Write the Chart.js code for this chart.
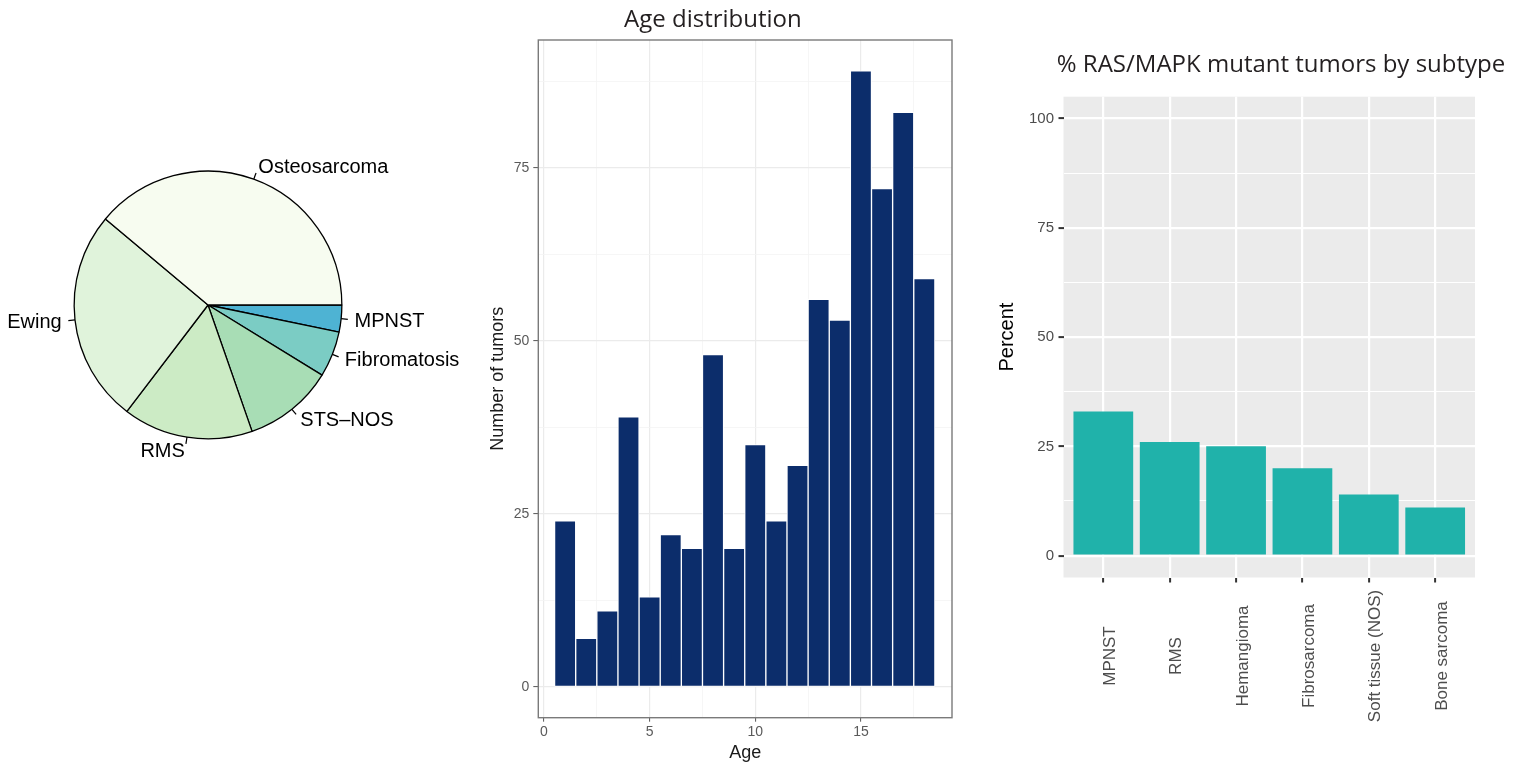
<!DOCTYPE html>
<html>
<head>
<meta charset="utf-8">
<title>Pediatric tumor cohort</title>
<script src="https://cdn.jsdelivr.net/npm/chart.js@4.4.1/dist/chart.umd.min.js"></script>
<style>
    html, body { margin: 0; padding: 0; background: #fff; }
    body { width: 1526px; height: 769px; position: relative; overflow: hidden; }
    canvas { position: absolute; top: 0; }
    #pieChart { left: 0; }
    #ageChart { left: 480px; }
    #subtypeChart { left: 990px; }
</style>
</head>
<body>
<canvas id="pieChart" width="480" height="640"></canvas>
<canvas id="ageChart" width="490" height="769"></canvas>
<canvas id="subtypeChart" width="536" height="769"></canvas>
<script>
// cohort composition (number of tumors per histology)
const tumorTypes = ["Osteosarcoma", "Ewing", "RMS", "STS\u2013NOS", "Fibromatosis", "MPNST"];
const tumorCounts = [275, 182, 111, 77, 39, 23];
const tumorColors = ["#F7FCF0", "#E0F3DB", "#CCEBC5", "#A8DDB5", "#7BCCC4", "#4EB3D3"];

// age at diagnosis
const ages = [1, 2, 3, 4, 5, 6, 7, 8, 9, 10, 11, 12, 13, 14, 15, 16, 17, 18];
const tumorsPerAge = [24, 7, 11, 39, 13, 22, 20, 48, 20, 35, 24, 32, 56, 53, 89, 72, 83, 59];
const ageTicks = [0, 5, 10, 15];
const countTicks = [0, 25, 50, 75];

// share of RAS/MAPK mutant tumors
const subtypes = ["MPNST", "RMS", "Hemangioma", "Fibrosarcoma", "Soft tissue (NOS)", "Bone sarcoma"];
const mutantPercent = [33, 26, 25, 20, 14, 11];
const percentTicks = [0, 25, 50, 75, 100];

Chart.defaults.font.family = '"Liberation Sans", Arial, sans-serif';

// major ticks plus the minor ones halfway between them
function withMinor(major, max) {
    const step = major[1] - major[0];
    return major.flatMap((v) => [v, v + step / 2]).filter((v) => v <= max).map((v) => ({ value: v }));
}

// panel heading drawn at a fixed spot above each plot
const caption = {
    id: "caption",
    afterDraw(chart, args, opts) {
        if (!opts.text) return;
        const ctx = chart.ctx;
        ctx.save();
        ctx.font = '24px "Open Sans"';
        ctx.fillStyle = "#231F20";
        ctx.textAlign = "center";
        ctx.textBaseline = "alphabetic";
        ctx.fillText(opts.text, opts.x, opts.y);
        ctx.restore();
    }
};

// pie labels with small leader ticks, like base R pie()
const pieLabels = {
    id: "pieLabels",
    afterDatasetsDraw(chart) {
        const ctx = chart.ctx;
        const arcs = chart.getDatasetMeta(0).data;

        ctx.save();
        ctx.font = '20px "Liberation Sans"';
        ctx.fillStyle = "#000";
        ctx.strokeStyle = "#000";
        ctx.lineWidth = 1.2;
        ctx.textBaseline = "middle";

        arcs.forEach((arc, i) => {
            const { x, y, startAngle, endAngle, outerRadius } = arc.getProps(["x", "y", "startAngle", "endAngle", "outerRadius"]);
            const mid = (startAngle + endAngle) / 2;
            const cos = Math.cos(mid);
            const sin = Math.sin(mid);

            ctx.beginPath();
            ctx.moveTo(x + cos * outerRadius, y + sin * outerRadius);
            ctx.lineTo(x + cos * outerRadius * 1.05, y + sin * outerRadius * 1.05);
            ctx.stroke();

            ctx.textAlign = cos < 0 ? "right" : "left";
            ctx.fillText(chart.data.labels[i], x + cos * outerRadius * 1.1, y + sin * outerRadius * 1.1 + 1);
        });

        ctx.restore();
    }
};

// grey ggplot-style panel behind the grid
const panelBackground = {
    id: "panelBackground",
    beforeDraw(chart, args, opts) {
        if (!opts.color) return;
        const { left, top, width, height } = chart.chartArea;
        chart.ctx.save();
        chart.ctx.fillStyle = opts.color;
        chart.ctx.fillRect(left, top, width, height);
        chart.ctx.restore();
    }
};

// theme_bw frame around the histogram
const panelBorder = {
    id: "panelBorder",
    afterDraw(chart, args, opts) {
        if (!opts.color) return;
        const { left, top, width, height } = chart.chartArea;
        chart.ctx.save();
        chart.ctx.strokeStyle = opts.color;
        chart.ctx.lineWidth = 1.4;
        chart.ctx.strokeRect(left, top, width, height);
        chart.ctx.restore();
    }
};

// vertical category names, centred below the axis
const subtypeLabels = {
    id: "subtypeLabels",
    afterDraw(chart) {
        const ctx = chart.ctx;
        const scale = chart.scales.x;

        ctx.save();
        ctx.font = '17px "Liberation Sans"';
        ctx.fillStyle = "#4D4D4D";
        ctx.textAlign = "center";
        ctx.textBaseline = "middle";

        subtypes.forEach((name, i) => {
            ctx.save();
            ctx.translate(scale.getPixelForValue(i) + 6.8, scale.top + 78.5);
            ctx.rotate(-Math.PI / 2);
            ctx.fillText(name, 0, 0);
            ctx.restore();
        });

        ctx.restore();
    }
};

function initPieChart() {
    // base R draws counter-clockwise from 3 o'clock, so feed the slices reversed
    const order = [...tumorTypes.keys()].reverse();

    new Chart(document.getElementById("pieChart"), {
        type: "pie",
        data: {
            labels: order.map((i) => tumorTypes[i]),
            datasets: [
                {
                    data: order.map((i) => tumorCounts[i]),
                    backgroundColor: order.map((i) => tumorColors[i]),
                    borderColor: "#000",
                    borderWidth: 1.3,
                    hoverOffset: 0
                }
            ]
        },
        options: {
            responsive: false,
            animation: false,
            devicePixelRatio: 1,
            events: [],
            rotation: 90,
            layout: {
                padding: { left: 73.5, top: 170.5, right: 137.5, bottom: 200.5 }
            },
            plugins: {
                legend: { display: false },
                tooltip: { enabled: false }
            }
        },
        plugins: [pieLabels]
    });
}

function initAgeChart() {
    const isMajorAge = (c) => c.tick && ageTicks.includes(c.tick.value);
    const isMajorCount = (c) => c.tick && countTicks.includes(c.tick.value);

    new Chart(document.getElementById("ageChart"), {
        type: "bar",
        data: {
            datasets: [
                {
                    data: ages.map((age, i) => ({ x: age, y: tumorsPerAge[i] })),
                    backgroundColor: "#0C2D6B",
                    borderColor: "#FFFFFF",
                    borderWidth: 1,
                    borderSkipped: false,
                    barPercentage: 1,
                    categoryPercentage: 1
                }
            ]
        },
        options: {
            responsive: false,
            animation: false,
            devicePixelRatio: 1,
            events: [],
            layout: {
                padding: { left: 0, top: 40, right: 18, bottom: 0 }
            },
            plugins: {
                legend: { display: false },
                tooltip: { enabled: false },
                caption: { text: "Age distribution", x: 232.9, y: 27.3 },
                panelBorder: { color: "#7A7A7A" }
            },
            scales: {
                x: {
                    type: "linear",
                    min: -0.27,
                    max: 19.31,
                    bounds: "data",
                    offset: false,
                    afterBuildTicks: (s) => { s.ticks = withMinor(ageTicks, s.max); },
                    afterFit: (s) => { s.height = 51.3; },
                    ticks: {
                        autoSkip: false,
                        maxRotation: 0,
                        padding: 2,
                        color: "#5A5A5A",
                        font: { size: 14 },
                        callback: (v) => (ageTicks.includes(v) ? String(v) : "")
                    },
                    grid: {
                        offset: false,
                        color: (c) => (isMajorAge(c) ? "#EBEBEB" : "#F4F4F4"),
                        lineWidth: (c) => (isMajorAge(c) ? 1.2 : 0.8),
                        tickColor: (c) => (isMajorAge(c) ? "#555" : "rgba(0,0,0,0)"),
                        tickLength: 4,
                        tickWidth: 1
                    },
                    border: { display: false },
                    title: {
                        display: true,
                        text: "Age",
                        color: "#1A1A1A",
                        font: { size: 18 },
                        padding: { top: 0, bottom: 5.2 }
                    }
                },
                y: {
                    min: -4.45,
                    max: 93.45,
                    bounds: "data",
                    afterBuildTicks: (s) => { s.ticks = withMinor(countTicks, s.max); },
                    afterFit: (s) => { s.width = 58.3; },
                    ticks: {
                        autoSkip: false,
                        padding: 4,
                        color: "#5A5A5A",
                        font: { size: 14 },
                        callback: (v) => (countTicks.includes(v) ? String(v) : "")
                    },
                    grid: {
                        color: (c) => (isMajorCount(c) ? "#EBEBEB" : "#F4F4F4"),
                        lineWidth: (c) => (isMajorCount(c) ? 1.2 : 0.8),
                        tickColor: (c) => (isMajorCount(c) ? "#555" : "rgba(0,0,0,0)"),
                        tickLength: 5,
                        tickWidth: 1
                    },
                    border: { display: false },
                    title: {
                        display: true,
                        text: "Number of tumors",
                        color: "#1A1A1A",
                        font: { size: 18 },
                        padding: { top: 7.7, bottom: 0 }
                    }
                }
            }
        },
        plugins: [caption, panelBorder]
    });
}

function initSubtypeChart() {
    const isMajorPercent = (c) => c.tick && percentTicks.includes(c.tick.value);

    new Chart(document.getElementById("subtypeChart"), {
        type: "bar",
        data: {
            datasets: [
                {
                    data: subtypes.map((name, i) => ({ x: i, y: mutantPercent[i] })),
                    backgroundColor: "#20B2AA",
                    borderWidth: 0,
                    barPercentage: 0.9,
                    categoryPercentage: 1
                }
            ]
        },
        options: {
            responsive: false,
            animation: false,
            devicePixelRatio: 1,
            events: [],
            layout: {
                padding: { left: 0, top: 96.7, right: 51, bottom: 0 }
            },
            plugins: {
                legend: { display: false },
                tooltip: { enabled: false },
                caption: { text: "% RAS/MAPK mutant tumors by subtype", x: 291, y: 72.3 },
                panelBackground: { color: "#EBEBEB" }
            },
            scales: {
                x: {
                    type: "linear",
                    min: -0.6,
                    max: subtypes.length - 0.4,
                    bounds: "data",
                    offset: false,
                    afterBuildTicks: (s) => { s.ticks = subtypes.map((name, i) => ({ value: i })); },
                    afterFit: (s) => { s.height = 191.5; },
                    ticks: { display: false, autoSkip: false },
                    grid: {
                        offset: false,
                        color: "#FFFFFF",
                        lineWidth: 2.2,
                        tickColor: "#333333",
                        tickLength: 5,
                        tickWidth: 2
                    },
                    border: { display: false }
                },
                y: {
                    min: -5,
                    max: 105,
                    bounds: "data",
                    afterBuildTicks: (s) => { s.ticks = withMinor(percentTicks, s.max); },
                    afterFit: (s) => { s.width = 73.5; },
                    ticks: {
                        autoSkip: false,
                        padding: 4.5,
                        color: "#4D4D4D",
                        font: { size: 15 },
                        callback: (v) => (percentTicks.includes(v) ? String(v) : "")
                    },
                    grid: {
                        color: "#FFFFFF",
                        lineWidth: (c) => (isMajorPercent(c) ? 2.2 : 1.1),
                        tickColor: (c) => (isMajorPercent(c) ? "#333333" : "rgba(0,0,0,0)"),
                        tickLength: 5,
                        tickWidth: 2
                    },
                    border: { display: false },
                    title: {
                        display: true,
                        text: "Percent",
                        color: "#000",
                        font: { size: 20 },
                        padding: { top: 5, bottom: 0 }
                    }
                }
            }
        },
        plugins: [panelBackground, caption, subtypeLabels]
    });
}

initPieChart();
initAgeChart();
initSubtypeChart();
</script>
</body>
</html>
